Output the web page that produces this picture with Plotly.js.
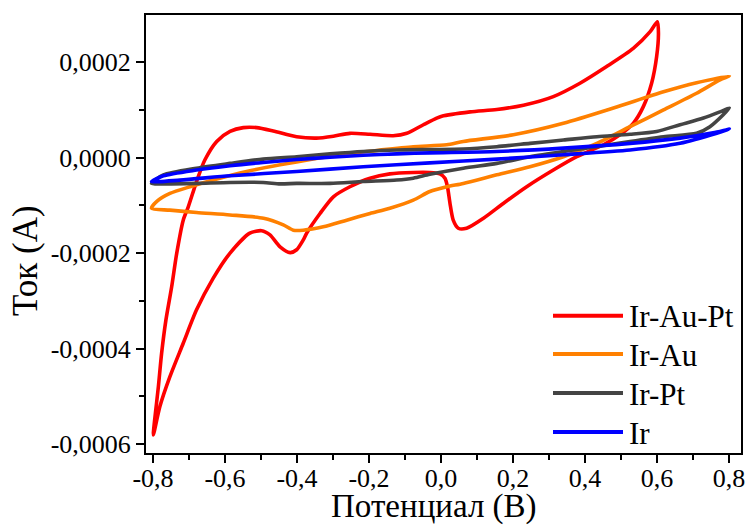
<!DOCTYPE html>
<html>
<head>
<meta charset="utf-8">
<script src="https://cdn.plot.ly/plotly-3.0.1.min.js"></script>
<style>html,body{margin:0;padding:0;background:#fff;}#chart{width:748px;height:525px;}</style>
</head>
<body>
<div id="chart"></div>
<script>
// ---- data (potential in V, current in units of 1e-4 A) ----
const seriesNames = ["Ir-Au-Pt", "Ir-Au", "Ir-Pt", "Ir"];

const irAuPtX = [-0.799,-0.785,-0.776,-0.764,-0.748,-0.734,-0.716,-0.702,-0.679,-0.656,-0.623,-0.586,-0.549,-0.512,-0.466,-0.401,-0.346,-0.299,-0.253,-0.197,-0.133,-0.095,-0.049,-0.012,0.002,0.081,0.155,0.229,0.312,0.386,0.460,0.534,0.581,0.601,
  0.604,0.599,0.585,0.562,0.534,0.497,0.451,0.377,0.312,0.238,0.173,0.118,0.071,0.048,0.034,0.025,0.018,0.011,-0.003,-0.031,-0.077,-0.142,-0.197,-0.253,-0.299,-0.336,-0.373,-0.383,-0.401,-0.419,-0.447,-0.475,-0.498,-0.531,-0.586,-0.633,-0.679,-0.716,-0.753,-0.781,-0.799];
const irAuPtY = [-5.81,-4.80,-4.10,-3.40,-2.70,-2.00,-1.31,-1.03,-0.50,-0.05,0.34,0.55,0.63,0.63,0.56,0.44,0.41,0.45,0.51,0.49,0.46,0.51,0.69,0.83,0.87,0.96,1.01,1.10,1.28,1.56,1.91,2.29,2.64,2.85,
  2.61,2.12,1.56,1.07,0.72,0.48,0.27,0.02,-0.26,-0.61,-0.96,-1.27,-1.48,-1.48,-1.31,-0.96,-0.61,-0.43,-0.34,-0.31,-0.31,-0.34,-0.43,-0.61,-0.82,-1.17,-1.58,-1.73,-1.93,-1.99,-1.87,-1.62,-1.53,-1.58,-2.00,-2.53,-3.19,-3.89,-4.59,-5.22,-5.81];

const irAuX = [-0.804,-0.790,-0.753,-0.697,-0.633,-0.540,-0.447,-0.355,-0.262,-0.169,-0.077,0.016,0.062,0.201,0.340,0.479,0.618,0.710,0.801,
  0.775,0.710,0.618,0.525,0.433,0.340,0.247,0.155,0.062,0.016,-0.031,-0.077,-0.142,-0.197,-0.262,-0.327,-0.383,-0.410,-0.438,-0.493,-0.586,-0.679,-0.753,-0.804];
const irAuY = [-1.06,-0.92,-0.75,-0.61,-0.47,-0.29,-0.15,-0.03,0.08,0.16,0.23,0.27,0.34,0.48,0.72,1.04,1.38,1.57,1.71,
  1.63,1.35,1.00,0.65,0.30,0.02,-0.19,-0.36,-0.54,-0.61,-0.71,-0.89,-1.06,-1.17,-1.31,-1.45,-1.52,-1.52,-1.41,-1.27,-1.20,-1.15,-1.10,-1.06];

const irPtX = [-0.804,-0.771,-0.679,-0.586,-0.494,-0.401,-0.308,-0.216,-0.123,-0.031,0.062,0.155,0.247,0.340,0.433,0.525,0.599,0.664,0.729,0.775,0.801,
  0.784,0.747,0.710,0.618,0.525,0.433,0.340,0.247,0.155,0.062,-0.031,-0.077,-0.123,-0.216,-0.308,-0.401,-0.447,-0.494,-0.586,-0.679,-0.771,-0.804];
const irPtY = [-0.54,-0.36,-0.22,-0.12,-0.03,0.02,0.08,0.13,0.16,0.17,0.18,0.23,0.30,0.37,0.44,0.49,0.55,0.69,0.83,0.96,1.04,
  0.90,0.65,0.51,0.44,0.34,0.23,0.13,0.02,-0.12,-0.22,-0.35,-0.43,-0.47,-0.50,-0.54,-0.54,-0.55,-0.52,-0.52,-0.54,-0.55,-0.54];

const irX = [-0.804,-0.771,-0.679,-0.586,-0.494,-0.401,-0.308,-0.216,-0.123,-0.031,0.155,0.340,0.525,0.664,0.756,0.801,
  0.766,0.664,0.525,0.340,0.155,-0.031,-0.216,-0.401,-0.586,-0.725,-0.804];
const irY = [-0.50,-0.38,-0.26,-0.17,-0.10,-0.04,0.01,0.05,0.08,0.10,0.13,0.20,0.30,0.41,0.52,0.60,
  0.51,0.30,0.16,0.06,-0.03,-0.11,-0.19,-0.29,-0.38,-0.47,-0.50];

const seriesColors = ["#ff0000", "#ff8000", "#444444", "#0000ff"];

const xTickVals = [-0.8,-0.6,-0.4,-0.2,0,0.2,0.4,0.6,0.8];
const xTickText = ["-0,8","-0,6","-0,4","-0,2","0,0","0,2","0,4","0,6","0,8"];
const yTickVals = [-0.0006,-0.0004,-0.0002,0,0.0002];
const yTickText = ["-0,0006","-0,0004","-0,0002","0,0000","0,0002"];
const xTitle = "Потенциал (В)";
const yTitle = "Ток (А)";

// ---- build ----
const scale = 1e-4;
const xs = [irAuPtX, irAuX, irPtX, irX];
const ys = [irAuPtY, irAuY, irPtY, irY];
const traces = xs.map((x, i) => ({
  type: "scatter", mode: "lines", name: seriesNames[i],
  x: x, y: ys[i].map(v => v * scale),
  line: {color: seriesColors[i], width: 3.6, shape: "spline", smoothing: 0.7},
  showlegend: false, hoverinfo: "skip"
}));

const W = 748, H = 525;
const L = 146, R = 741, T = 15, B = 453;
const px = v => (v - L) / (R - L);
const py = v => (B - v) / (B - T);
const fontFam = "'Liberation Serif', 'Times New Roman', 'DejaVu Serif', serif";

const legendRows = [315.7, 354, 393, 432];
const shapes = [], annotations = [];
seriesNames.forEach((n, i) => {
  shapes.push({type: "line", xref: "paper", yref: "paper",
    x0: px(553), x1: px(623), y0: py(legendRows[i]), y1: py(legendRows[i]),
    line: {color: seriesColors[i], width: 4}});
  annotations.push({xref: "paper", yref: "paper", x: px(627), y: py(legendRows[i] + 1),
    xanchor: "left", yanchor: "middle", text: n, showarrow: false,
    font: {family: fontFam, size: 31, color: "#000"}});
});
// axis titles
annotations.push({xref: "paper", yref: "paper", x: px(434), y: py(506), xanchor: "center", yanchor: "middle",
  text: xTitle, showarrow: false, font: {family: fontFam, size: 33, color: "#000"}});
annotations.push({xref: "paper", yref: "paper", x: px(25), y: py(261), xanchor: "center", yanchor: "middle",
  textangle: -90, text: yTitle, showarrow: false, font: {family: fontFam, size: 35, color: "#000"}});

const axisCommon = {
  showgrid: false, zeroline: false, showline: true, linecolor: "#000", linewidth: 2,
  mirror: true, ticks: "outside", ticklen: 8, tickwidth: 2, tickcolor: "#000",
  tickfont: {family: fontFam, size: 26, color: "#000"},
  tickmode: "array", automargin: false
};

const layout = {
  width: W, height: H,
  margin: {l: L, r: W - R, t: T, b: H - B, pad: 0},
  paper_bgcolor: "#fff", plot_bgcolor: "#fff",
  font: {family: fontFam, color: "#000"},
  xaxis: Object.assign({}, axisCommon, {
    range: [-0.8194, 0.8333], tickvals: xTickVals, ticktext: xTickText, ticklabelstandoff: -7,
    minor: {ticks: "outside", ticklen: 5, tickwidth: 2, tickcolor: "#000", tickvals: [-0.7,-0.5,-0.3,-0.1,0.1,0.3,0.5,0.7]}
  }),
  yaxis: Object.assign({}, axisCommon, {
    range: [-0.000619, 0.000299], tickvals: yTickVals, ticktext: yTickText,
    minor: {ticks: "outside", ticklen: 5, tickwidth: 2, tickcolor: "#000", tickvals: [-0.0005,-0.0003,-0.0001,0.0001]}
  }),
  shapes: shapes, annotations: annotations, showlegend: false
};

Plotly.newPlot("chart", traces, layout, {displayModeBar: false, staticPlot: true});
</script>
</body>
</html>
